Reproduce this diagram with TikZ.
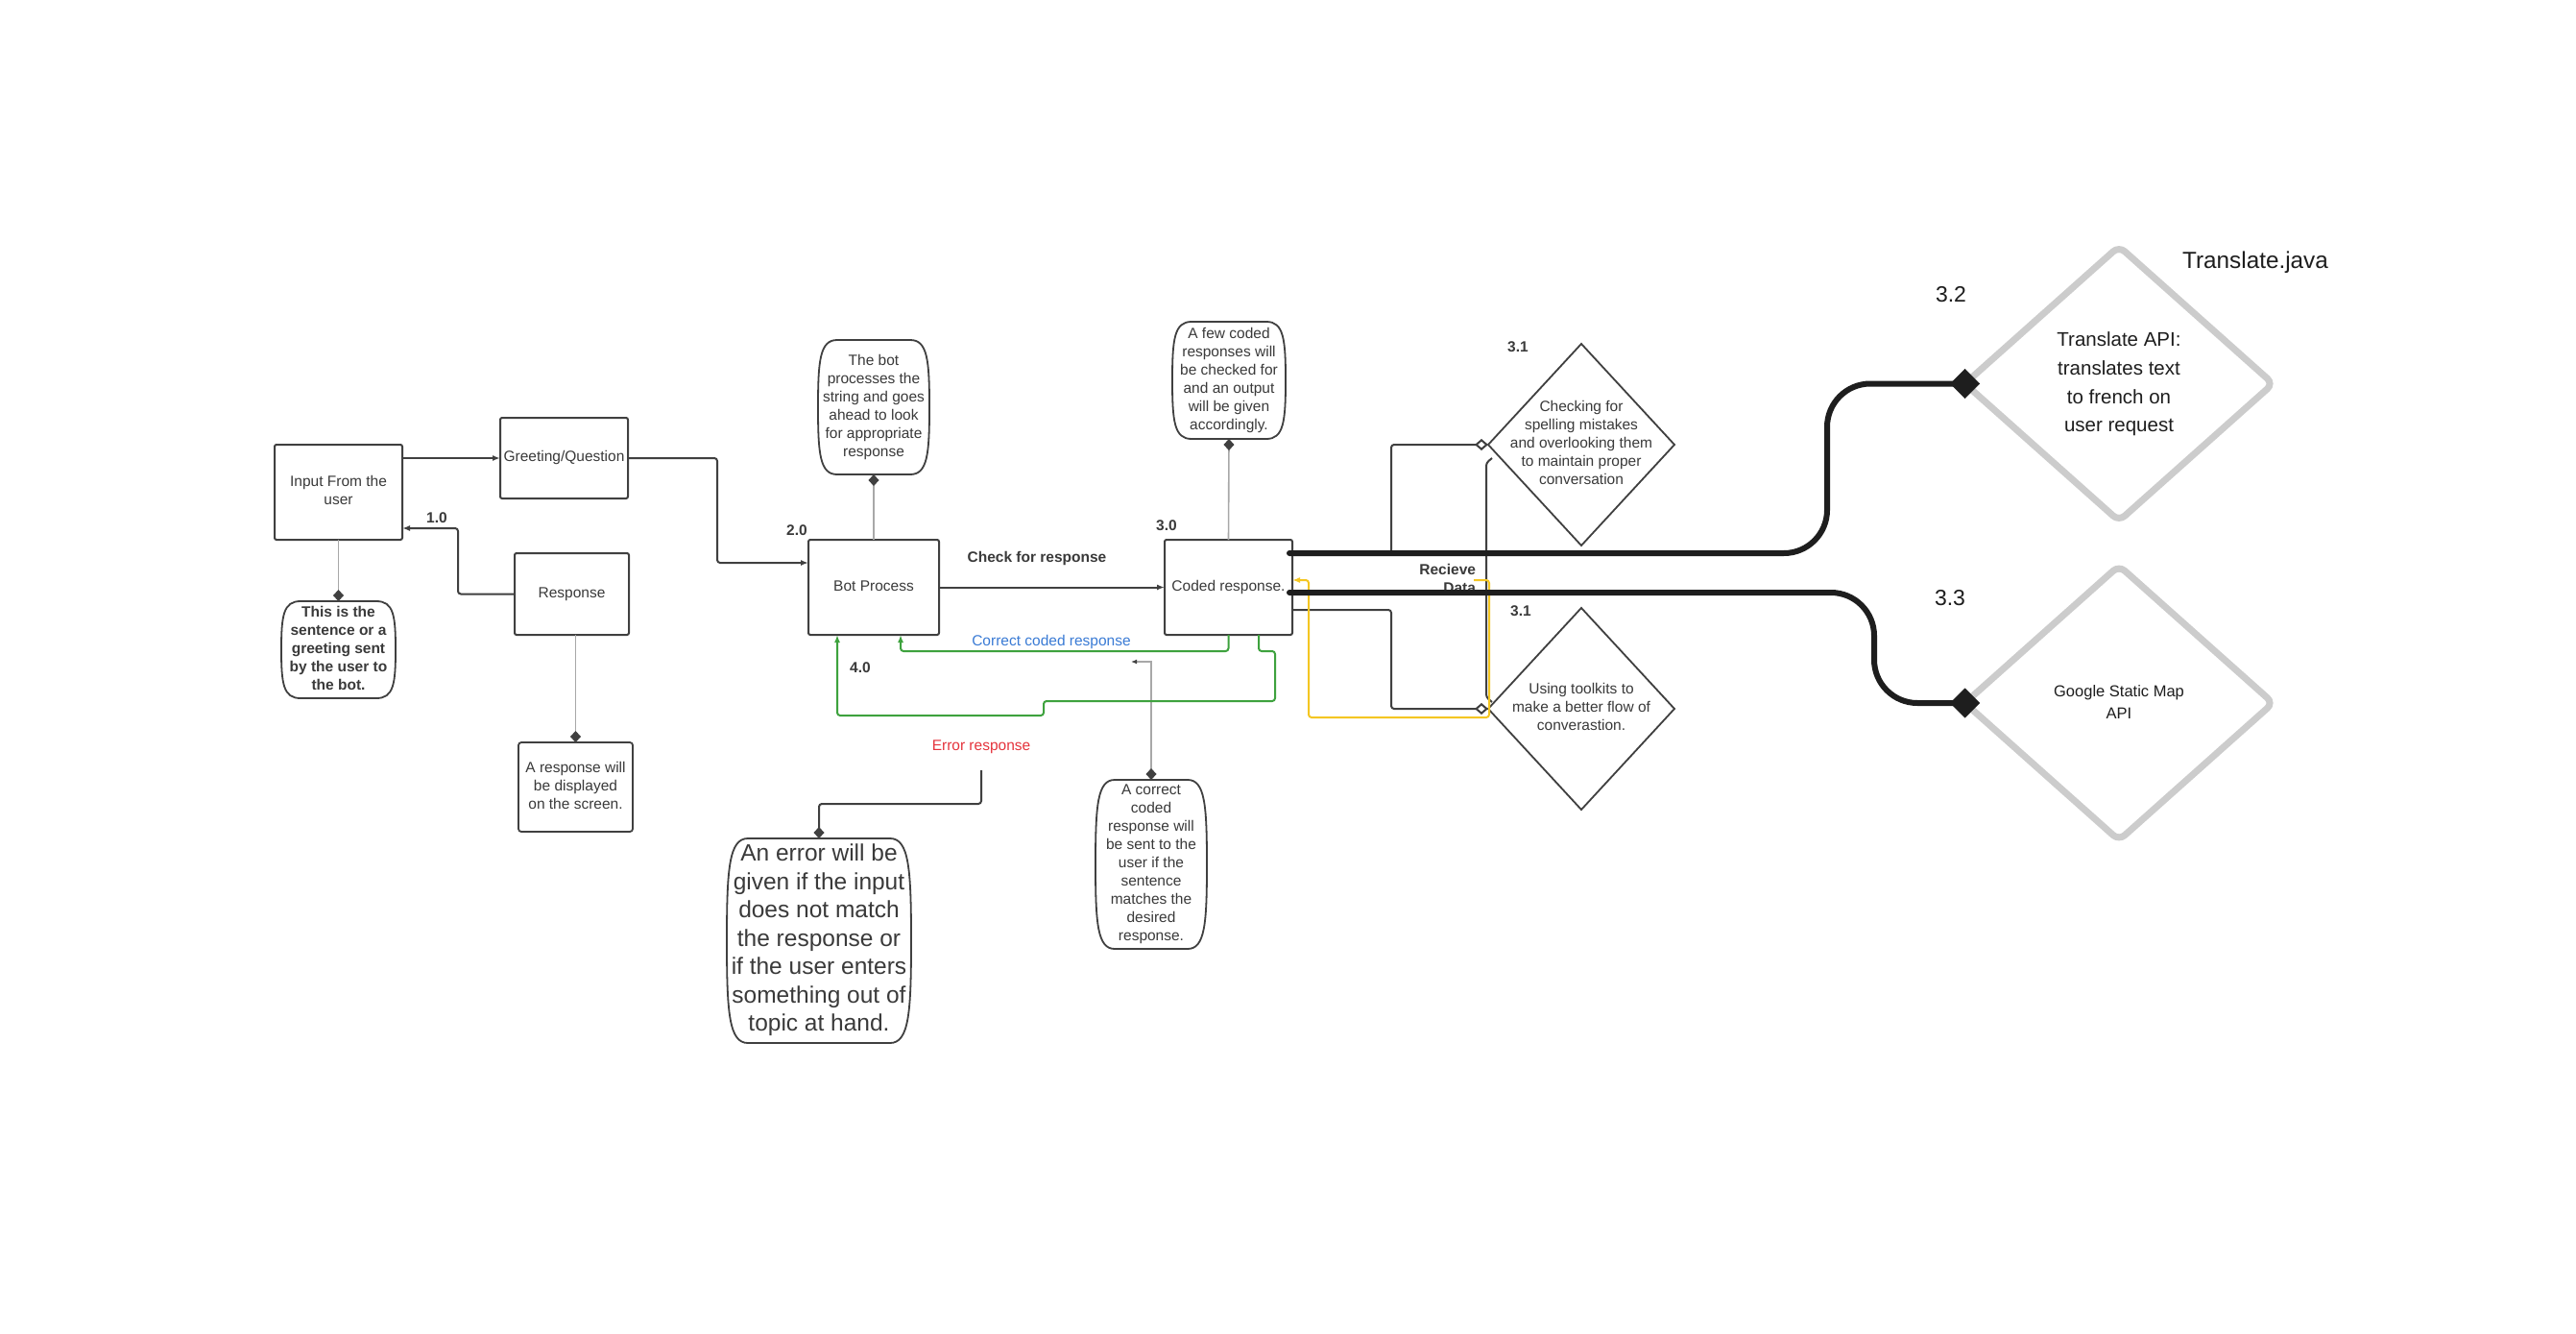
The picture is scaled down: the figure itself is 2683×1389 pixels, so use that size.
\documentclass[tikz,border=0pt]{standalone}
\usepackage{fontspec}
\setmainfont{Liberation Sans}
\usetikzlibrary{arrows.meta,shapes.geometric,calc}
\definecolor{dk}{HTML}{404040}
\definecolor{txt}{HTML}{3A3A3A}
\definecolor{lg}{HTML}{A8A8A8}
\definecolor{gr}{HTML}{3EA23E}
\definecolor{bl}{HTML}{3A7BD5}
\definecolor{rd}{HTML}{E5343D}
\definecolor{yl}{HTML}{F4C622}
\definecolor{bigc}{HTML}{CCCCCC}
\definecolor{blk}{HTML}{1E1E1E}
\newcommand{\ml}[1]{\makebox[0pt]{\begin{tabular}{@{}c@{}}#1\end{tabular}}}
\newcommand{\barrel}[2]{%
  \draw[dk, line width=1.8pt]
   ($(#1.north west)+(#2,0)$) -- ($(#1.north east)+(-#2,0)$)
   .. controls ($(#1.north east)+(-0.1*#2,0)$) and ($(#1.north east)!0.3!(#1.east)$) .. (#1.east)
   .. controls ($(#1.south east)!0.3!(#1.east)$) and ($(#1.south east)+(-0.1*#2,0)$) .. ($(#1.south east)+(-#2,0)$)
   -- ($(#1.south west)+(#2,0)$)
   .. controls ($(#1.south west)+(0.1*#2,0)$) and ($(#1.south west)!0.3!(#1.west)$) .. (#1.west)
   .. controls ($(#1.north west)!0.3!(#1.west)$) and ($(#1.north west)+(0.1*#2,0)$) .. cycle;
}
\begin{document}
\begin{tikzpicture}[x=1pt,y=-1pt,
  every node/.style={inner sep=0pt, outer sep=0pt, text=txt},
  fnt/.style={font=\fontsize{15.5}{19}\selectfont},
  num/.style={font=\fontsize{15.5}{19}\selectfont\bfseries},
  proc/.style={draw=dk, line width=2pt, rounded corners=2pt, fill=white, fnt},
  conn/.style={draw=dk, line width=2pt, rounded corners=3pt, -{Latex[length=8pt,width=6pt]}},
  callconn/.style={draw=lg, line width=1.6pt, -{Diamond[length=12pt,width=11pt,color=dk]}},
  grn/.style={draw=gr, line width=2pt, rounded corners=3pt, -{Latex[length=8pt,width=6pt]}},
  yel/.style={draw=yl, line width=2pt, rounded corners=3pt, -{Latex[length=8pt,width=6pt]}},
  hol/.style={draw=dk, line width=2pt, rounded corners=3pt, -{Diamond[length=14pt,width=12pt,fill=white]}},
  smalld/.style={diamond, draw=dk, line width=1.8pt, minimum width=194, minimum height=210, fnt, text=txt},
  bigd/.style={diamond, draw=bigc, line width=7pt, rounded corners=8pt, minimum width=321, minimum height=286, text=blk},
  thk/.style={draw=blk, line width=6pt, rounded corners=45pt, line cap=round, -{Diamond[length=31pt,width=31pt,line width=0.5pt]}}
]
\fill[white] (0,0) rectangle (2683,1389);
\useasboundingbox (0,0) rectangle (2683,1389);

% process boxes
\node[proc, minimum width=133, minimum height=99] (inp) at (352.5,512.5) {\ml{Input From the\\user}};
\node[proc, minimum width=133, minimum height=84] (greet) at (587.5,477) {\ml{Greeting/Question}};
\node[proc, minimum width=119, minimum height=85] (resp) at (595.5,618.5) {\ml{Response}};
\node[proc, minimum width=136, minimum height=99] (bot) at (910,611.5) {\ml{Bot Process}};
\node[proc, minimum width=133, minimum height=99] (coded) at (1279.5,611.5) {\ml{Coded response.}};

% callouts
\node[num, minimum width=119, minimum height=101] (c1) at (352.5,676.5) {\ml{This is the\\sentence or a\\greeting sent\\by the user to\\the bot.}};
\barrel{c1}{20}
\node[fnt, draw=dk, line width=1.8pt, rounded corners=3pt, minimum width=119, minimum height=93] (c2) at (599.5,819.5) {\ml{A response will\\be displayed\\on the screen.}};
\node[fnt, minimum width=116, minimum height=140] (c3) at (910,424) {\ml{The bot\\processes the\\string and goes\\ahead to look\\for appropriate\\response}};
\barrel{c3}{20}
\node[fnt, minimum width=118, minimum height=122] (c4) at (1280,396) {\ml{A few coded\\responses will\\be checked for\\and an output\\will be given\\accordingly.}};
\barrel{c4}{20}
\node[fnt, minimum width=116, minimum height=176] (c5) at (1199,900) {\ml{A correct\\coded\\response will\\be sent to the\\user if the\\sentence\\matches the\\desired\\response.}};
\barrel{c5}{20}
\node[font=\fontsize{24.5}{29.5}\selectfont, minimum width=192, minimum height=213] (c6) at (853,979.5) {\ml{An error will be\\given if the input\\does not match\\the response or\\if the user enters\\something out of\\topic at hand.}};
\barrel{c6}{22}

% 3.1 diamonds
\node[smalld] (d1) at (1647,463) {\raisebox{5pt}{\ml{Checking for\\spelling mistakes\\and overlooking them\\to maintain proper\\conversation}}};
\node[smalld] (d2) at (1647,738) {\ml{Using toolkits to\\make a better flow of\\converastion.}};

% big diamonds
\node[bigd, font=\fontsize{20.5}{29.7}\selectfont] (D32) at (2207,399.5) {\ml{Translate API:\\translates text\\to french on\\user request}};
\node[bigd, font=\fontsize{16.5}{23}\selectfont] (D33) at (2207,732) {\ml{Google Static Map\\API}};

% labels
\node[num] (l10) at (455,539) {1.0};
\node[num] (l20) at (830,552) {2.0};
\node[num] (l30) at (1215,547) {3.0};
\node[num] (l40) at (896,695) {4.0};
\node[num] (lcheck) at (1080,581) {Check for response};
\node[fnt, text=bl] (lcorr) at (1095,668) {Correct coded response};
\node[fnt, text=rd] (lerr) at (1022,778) {Error response};
\node[num] (l31a) at (1581,361) {3.1};
\node[num] (l31b) at (1584,636) {3.1};
\node[num, anchor=east, align=right] (recv) at (1537,602.5) {Recieve\\Data};
\node[font=\fontsize{23}{27}\selectfont, text=blk] (l32) at (2032,307) {3.2};
\node[font=\fontsize{23}{27}\selectfont, text=blk] (l33) at (2031,623) {3.3};
\node[font=\fontsize{24.3}{29}\selectfont, text=blk] (ltj) at (2349,273) {Translate.java};

% free ends
\coordinate (cfree) at (1178,689);
\coordinate (efree) at (1022,802);
\coordinate (yfree) at (1535,604);

% main flow
\draw[conn] (inp.east |- greet.west) -- (greet.west);
\draw[conn] (resp.west) -- (477,618.5) -- (477,550) -- (inp.east |- 0,550);
\draw[conn] (greet.east) -- (747,477) -- (747,586) -- (bot.west |- 0,586);
\draw[conn, rounded corners=0pt] (bot.east) -- (coded.west);

% callout links
\draw[callconn] (inp.south) -- (c1.north);
\draw[callconn] (c2.north |- resp.south) -- (c2.north);
\draw[callconn] (bot.north) -- (c3.south);
\draw[callconn] (coded.north) -- (c4.south);
\draw[draw=lg, line width=1.6pt, {Diamond[length=12pt,width=11pt,color=dk]}-{Latex[length=6pt,width=5pt,color=dk]}] (c5.north) -- (1199,689) -- (cfree);
\draw[draw=dk, line width=2pt, rounded corners=3pt, -{Diamond[length=12pt,width=11pt]}] (efree) -- (1022,837) -- (853,837) -- (c6.north);

% green returns
\draw[grn] (coded.south) -- (1279.5,678) -- (938,678) -- (bot.south -| 938,0);
\draw[grn] ($(coded.south)+(31.5,0)$) -- (1311,678) -- (1328,678) -- (1328,730) -- (1087,730) -- (1087,745) -- (872,745) -- (bot.south -| 872,0);

% links to 3.1 diamonds
\draw[hol] (coded.east |- 0,576) -- (1449,576) -- (1449,0 |- d1.west) -- (d1.west);
\draw[hol] (coded.east |- 0,635) -- (1449,635) -- (1449,0 |- d2.west) -- (d2.west);
\draw[dk, line width=2pt, rounded corners=3pt] ($(d1.west)+(4,14)$) -- ($(d1.west)+(-2,19)$) -- ($(d2.west)+(-2,-12)$) -- ($(d2.west)+(4,-7)$);
\draw[yel] (yfree) -- (1551,604) -- (1551,747) -- (1363,747) -- (1363,604) -- (coded.east |- 0,604);

% thick links to APIs
\draw[thk] ($(coded.east |- 0,576)+(-3,0)$) -- (1903,576) -- (1903,399.5) -- ($(D32.west)+(15.5,0)$);
\draw[thk] ($(coded.east |- 0,617)+(-3,0)$) -- (1952,617) -- (1952,732) -- ($(D33.west)+(15.5,0)$);
\end{tikzpicture}
\end{document}
